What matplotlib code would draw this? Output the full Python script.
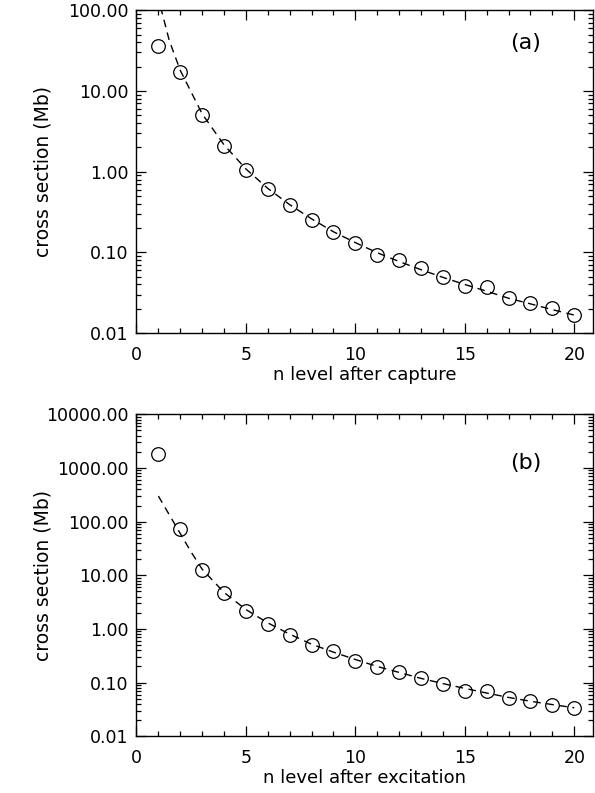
import matplotlib
matplotlib.use("Agg")
import matplotlib.pyplot as plt
from matplotlib.ticker import FixedLocator, FuncFormatter, MultipleLocator, LogLocator, NullFormatter

# panel (a): capture
n_a = [1, 2, 3, 4, 5, 6, 7, 8, 9, 10, 11, 12, 13, 14, 15, 16, 17, 18, 19, 20]
sigma_a = [36, 17.3, 5.0, 2.09, 1.05, 0.61, 0.386, 0.25, 0.177, 0.132,
           0.093, 0.081, 0.064, 0.050, 0.0384, 0.037, 0.027, 0.0234, 0.0203, 0.0168]
n_fit_a = [1.1, 1.5, 2, 3, 4, 5, 6, 7, 8, 9, 10, 11, 12, 13, 14, 15, 16, 17, 18, 19, 20]
fit_a = [110, 42, 18, 5.2, 2.15, 1.08, 0.62, 0.39, 0.26, 0.18, 0.132, 0.099, 0.077,
         0.061, 0.049, 0.040, 0.033, 0.027, 0.023, 0.0195, 0.0167]

# panel (b): excitation
n_b = [1, 2, 3, 4, 5, 6, 7, 8, 9, 10, 11, 12, 13, 14, 15, 16, 17, 18, 19, 20]
sigma_b = [1835, 72.6, 12.8, 4.6, 2.2, 1.25, 0.76, 0.50, 0.39, 0.25,
           0.196, 0.158, 0.12, 0.094, 0.0695, 0.070, 0.052, 0.045, 0.039, 0.033]
n_fit_b = [1, 1.5, 2, 2.5, 3, 4, 5, 6, 7, 8, 9, 10, 11, 12, 13, 14, 15, 16, 17, 18, 19, 20]
fit_b = [300, 134, 60, 27, 13, 4.8, 2.3, 1.3, 0.8, 0.52, 0.37, 0.27, 0.2, 0.155,
         0.12, 0.096, 0.078, 0.064, 0.053, 0.045, 0.039, 0.034]

yticks_a = [0.01, 0.1, 1, 10, 100]
yticks_b = [0.01, 0.1, 1, 10, 100, 1000, 10000]
xticks = [0, 5, 10, 15, 20]

plt.rcParams["font.family"] = "DejaVu Sans"

fig = plt.figure(figsize=(5.95, 7.93), dpi=100)
ax_a = fig.add_axes([0.2294, 0.580, 0.767, 0.407])
ax_b = fig.add_axes([0.2294, 0.0715, 0.767, 0.406])


def style(ax, yticks, xlabel, tag, tag_y):
    ax.set_yscale("log")
    ax.set_xlim(0, 20.85)
    ax.set_ylim(yticks[0], yticks[-1])
    ax.xaxis.set_major_locator(FixedLocator(xticks))
    ax.xaxis.set_minor_locator(MultipleLocator(1))
    ax.yaxis.set_major_locator(FixedLocator(yticks))
    ax.yaxis.set_minor_locator(LogLocator(base=10, subs=range(2, 10), numticks=20))
    ax.yaxis.set_minor_formatter(NullFormatter())
    ax.yaxis.set_major_formatter(FuncFormatter(lambda v, p: f"{v:.2f}"))
    ax.tick_params(which="both", direction="in", top=True, right=True, width=0.9,
                   labelsize=12.5)
    ax.tick_params(which="major", length=7)
    ax.tick_params(axis="x", which="major", pad=9)
    ax.tick_params(axis="y", which="major", pad=6)
    ax.tick_params(which="minor", length=3.5)
    for s in ax.spines.values():
        s.set_linewidth(1.0)
    ax.set_xlabel(xlabel, fontsize=13)
    ax.xaxis.set_label_coords(0.5, -0.102)
    ax.set_ylabel("cross section (Mb)", fontsize=13.5)
    ax.yaxis.set_label_coords(-0.183, 0.5)
    ax.text(0.853, tag_y, tag, transform=ax.transAxes, fontsize=16,
            ha="center", va="center")


ax_a.plot(n_fit_a, fit_a, color="black", lw=1.0, dashes=(5.5, 4))
ax_a.plot(n_a, sigma_a, linestyle="none", marker="o", markersize=9.8,
          markerfacecolor="none", markeredgecolor="black", markeredgewidth=0.9)
style(ax_a, yticks_a, "n level after capture", "(a)", 0.898)

ax_b.plot(n_fit_b, fit_b, color="black", lw=1.0, dashes=(5.5, 4))
ax_b.plot(n_b, sigma_b, linestyle="none", marker="o", markersize=9.8,
          markerfacecolor="none", markeredgecolor="black", markeredgewidth=0.9)
style(ax_b, yticks_b, "n level after excitation", "(b)", 0.848)

fig.savefig("out.png", dpi=100)
